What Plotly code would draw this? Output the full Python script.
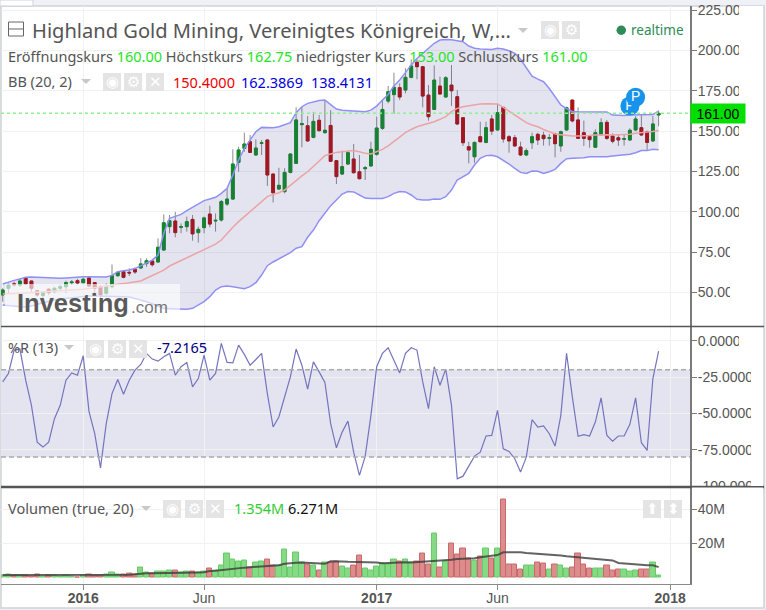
import plotly.graph_objects as go
from plotly.subplots import make_subplots

opens = [48.5, 52.6, 55.4, 54.6, 58.8, 57.1, 51.1, 48.2, 52, 50.5,
         52.6, 53.6, 56.1, 57.3, 56.1, 59, 56.1, 53.6, 49.5, 53.6,
         60.4, 62.9, 62.5, 64.3, 65.2, 67.9, 69.5, 68.9, 76.3, 90.8,
         94.3, 90.4, 90.8, 95.3, 87.1, 90.2, 98.6, 94.3, 94.9, 104.8,
         107.9, 130.6, 139.3, 143.4, 135.2, 142.4, 144.5, 123.4, 114.1, 112.5,
         124.4, 130, 154, 153.3, 146.1, 156.7, 149, 153.5, 131.7, 123.4,
         129.6, 132.7, 124.8, 126.7, 128.4, 135.6, 151.7, 168.6, 172.6, 176.9,
         175.4, 183.3, 192.6, 189.9, 172.3, 163.4, 177.9, 171.1, 178.5, 171.3,
         158.3, 140.3, 134.1, 146.5, 143, 157.5, 150.7, 164.7, 146.5, 145.9,
         140.1, 135.2, 142.8, 148, 147.4, 145.5, 148.2, 140.8, 150.7, 169.2,
         156.9, 149, 146.7, 140, 147.8, 155.4, 147, 145.9, 144.9, 144.5,
         150.7, 152.1, 149.6, 143.9, 160]
highs = [52.6, 55.5, 56.7, 58.8, 59.4, 57.1, 51.5, 50.5, 52.6, 53.5,
         55, 57.3, 57.7, 58.5, 59.2, 59.8, 56.1, 54.6, 55.7, 67.4,
         62.9, 63.5, 65, 65.6, 71.2, 71.2, 70.5, 83.5, 98.4, 98,
         100, 92.8, 97, 98, 90.8, 97, 103.8, 99, 107.3, 114.5,
         138.7, 140.3, 149, 147.6, 144.9, 144.5, 144.5, 123.4, 127.3, 127,
         136.2, 164.7, 165.1, 159.3, 161.9, 160, 168.8, 163, 132.1, 137.9,
         137.9, 142, 135.2, 128.4, 143.4, 158.9, 169.2, 177.9, 186.2, 179.6,
         188.9, 194.4, 194.4, 189.9, 178.5, 190.7, 183.7, 184.1, 190.9, 175.4,
         158.3, 143.4, 143.4, 155.8, 155.8, 160, 166.8, 164.7, 147.6, 147.6,
         143.4, 139.3, 149, 149, 149.6, 148.2, 149, 150.3, 165.1, 169.6,
         164.7, 156.5, 147.6, 151.1, 157.9, 156.9, 148.6, 148.2, 148, 151.7,
         159.3, 160.6, 150.3, 159.3, 162.75]
lows = [44.3, 49.5, 53.6, 53.6, 54.6, 50.5, 47.4, 46, 48.5, 49.5,
        51, 49.5, 54.6, 55, 55.7, 54, 48.5, 46.4, 48.5, 52.6,
        59.8, 58.8, 60.2, 61.5, 64.8, 66, 66, 68.5, 75.9, 86.7,
        84.2, 86.7, 87.7, 82.1, 80.9, 86.7, 90.4, 87.7, 93.9, 103.6,
        107.3, 124.8, 137.2, 136.6, 134.8, 135.2, 116, 105.8, 113.5, 111.4,
        123.8, 129.6, 140, 143.4, 145.5, 149.6, 148.6, 131, 117.2, 122.8,
        129, 123.8, 120.1, 119.7, 128, 134.8, 150.7, 167.2, 160.6, 169.2,
        173.4, 182.7, 182.1, 164.7, 156.4, 163, 172.4, 170.9, 165.5, 153.8,
        140.8, 130, 130.4, 143, 142.4, 147.6, 150.3, 142.8, 136.6, 140.3,
        134.5, 134.5, 138.9, 141.4, 141, 141, 133.7, 137.2, 150.3, 155.4,
        145.1, 140.8, 139.7, 139.5, 147, 144.5, 142.4, 140.8, 141, 144,
        150, 147.2, 138.3, 143.4, 153]
closes = [51.5, 54.6, 54.8, 57.1, 55.3, 52.6, 48.5, 49.9, 49.9, 52.6,
          53.6, 56.1, 56.5, 55.9, 58.2, 54, 52.6, 48.5, 53.6, 60.4,
          62.5, 59.4, 62.1, 62.7, 67.7, 69.7, 67.2, 78, 93.2, 94.5,
          87.1, 90.8, 93.9, 86.3, 89.1, 96.2, 92.4, 94.7, 106.3, 107.9,
          129.6, 138.3, 142, 136.8, 139.5, 142.8, 122.8, 111.8, 116.4, 124.4,
          135.8, 156.9, 154.6, 143.9, 156, 150.3, 150.5, 131.3, 121.8, 128,
          136.6, 124.2, 120.5, 127.3, 138.7, 151.9, 163.4, 174.4, 177.1, 171.1,
          183.3, 190.3, 189.9, 171.7, 158.9, 181.6, 173, 183, 175, 154.4,
          142.8, 138.3, 143, 143.4, 152.1, 150, 161.4, 145.1, 143.9, 140.8,
          135.2, 137.9, 146.5, 144.5, 145.3, 145.9, 142.2, 149.6, 164.5, 156.3,
          145.5, 145.5, 144.7, 149, 155.2, 145.5, 143.7, 144.5, 145.3, 150.5,
          157.5, 147.6, 143, 154.4, 161]

bb_upper = [55.3, 56.5, 57.5, 58.4, 59.4, 59.6, 59.4, 59.2, 59.2, 59,
            58.8, 59, 59.4, 59.6, 59.8, 59.8, 59.6, 59.6, 59.6, 60.6,
            62.9, 63.5, 63.9, 64.8, 66.6, 68.7, 70.1, 73.2, 86.7, 96,
            97, 98.4, 100.7, 102.8, 104.8, 106.9, 107.9, 109, 111.4, 114.5,
            122.8, 132.1, 139.3, 144.5, 149.6, 152.3, 152.3, 152.1, 152.7, 153.8,
            155.2, 161.4, 165.1, 167.2, 168.2, 169, 169.2, 166.2, 163.7, 162.9,
            162.7, 162.3, 162, 162, 163, 165.5, 169.2, 172.7, 177.9, 181.6,
            186.2, 191, 195, 198.2, 201.3, 204.4, 206.4, 206.8, 206.6, 206,
            205.4, 202.7, 201.3, 200.8, 200.6, 200.6, 201.3, 200.8, 199.8, 198.2,
            194.5, 188.9, 184.1, 182.2, 180.6, 176.4, 171.3, 166.2, 163.9, 162.2,
            162, 162, 162, 162, 162, 161.8, 159.9, 159.7, 159.7, 159.9,
            159.9, 160.1, 160.1, 160.3, 162.4]
bb_mid = [49.1, 49.1, 49.3, 49.5, 49.7, 49.9, 50.1, 50.3, 50.5, 50.7,
          50.9, 51.1, 51.5, 51.7, 52, 52.4, 53, 53.6, 54.2, 54.6,
          55.1, 55.5, 55.9, 56.5, 57.1, 58.8, 60.4, 61.9, 63.9, 66.4,
          68.1, 69.7, 71.6, 73, 75, 76.3, 78.4, 80, 82.5, 86.7,
          90.4, 93.9, 97, 100, 103.2, 106.7, 109.4, 110.8, 111.8, 113.5,
          116.6, 119.7, 122.2, 124.8, 128, 131.5, 134.8, 135.8, 136.8, 137.2,
          137.7, 137.9, 137.2, 136.2, 135.8, 137.2, 138.7, 140.8, 143.4, 146.5,
          149, 151, 152.7, 153.8, 154.8, 155.8, 157.3, 158.9, 162, 164.1,
          165.1, 165.7, 166.4, 166.8, 167, 167, 166.8, 164.7, 162.4, 159.9,
          157.3, 155.2, 153.8, 152.7, 151, 149.6, 148.2, 147.8, 147.2, 147,
          147, 147, 147.2, 147.6, 147.8, 147.8, 147.6, 147.6, 147.6, 148,
          148.6, 149.2, 149.4, 149.8, 150.4]
bb_lower = [42.3, 41.8, 41.4, 41.2, 41, 41.6, 42.7, 43.7, 44.5, 45.4,
            46, 46.4, 47, 47.4, 47.6, 47.8, 47.8, 47.8, 47.6, 47.4,
            47.4, 47.4, 47.2, 46.4, 45.4, 44.3, 42.9, 41.2, 40.2, 40,
            39.8, 39.6, 39.6, 40.2, 42.3, 44.3, 47.4, 51.5, 53.6, 54,
            53.6, 52.8, 52.4, 53.6, 56.1, 60.8, 66.6, 68.9, 70.8, 72.6,
            74.7, 77.4, 78.4, 84.2, 88.7, 94.5, 99, 103.8, 107.3, 111,
            112.5, 112.3, 110.4, 108.5, 108.3, 108.3, 108.3, 109.4, 111.4, 112.5,
            112.3, 110.4, 107.7, 107.3, 107.3, 107.9, 107.7, 109.4, 113.5, 119.7,
            121.8, 123.8, 129, 133.1, 134.8, 135, 134.1, 132.1, 129.6, 126.9,
            124.4, 123.8, 125.3, 125.1, 123.8, 124.8, 126.3, 130, 132.9, 133.1,
            133.1, 133.5, 134.1, 134.1, 133.9, 134.1, 134.5, 134.8, 135, 135.6,
            136.6, 138, 137.9, 138.7, 138.4]

williams_r = [-28.3, -22.5, -6.4, -5.7, -27.1, -44.4, -69.7, -73.1, -69.7, -53.6,
              -44.4, -27.1, -22.1, -23.7, -10.3, -48.5, -63.9, -87.4, -57, -36.3,
              -26.7, -36.8, -27.1, -20.2, -16.3, -8.7, -12.6, -14, -11, -8.7,
              -23.7, -17.9, -14.9, -31.7, -26, -9.9, -27.1, -22.5, -1.8, -14.9,
              -15.2, -3, -9.4, -16.8, -12.9, -8.7, -36.3, -59.3, -52.4, -38.6,
              -24.8, -5.7, -16.8, -33.3, -14.5, -21.4, -28.7, -57, -73.6, -62.8,
              -55.2, -76.6, -92.6, -79.5, -51.3, -17.9, -8.7, -4.8, -12.9, -22.1,
              -8.7, -4.8, -6.4, -28.3, -46.7, -17.9, -30.6, -19.5, -44.4, -94.9,
              -93.1, -85.7, -79.3, -76.6, -65.5, -65.1, -47.8, -74.3, -76.1, -81.1,
              -90.3, -80, -54.3, -59.3, -58.6, -63.9, -72.4, -51.3, -8.7, -38.6,
              -65.7, -64.6, -65.5, -55.9, -39.3, -65.1, -69, -65.5, -65.5, -57.5,
              -39.3, -70.1, -75.4, -26, -7.2165]

volumes = [1.7, 2.1, 1.3, 1.7, 1.3, 1, 2.1, 0.8, 1.7, 1.7,
           1, 1.2, 0.8, 0.2, 1.3, 2.1, 1.7, 1.3, 2.1, 2.9,
           2.1, 2.1, 2.7, 2.1, 6.3, 3.1, 2.5, 3.7, 4, 4.4,
           4.4, 3.3, 4, 4, 3.3, 3.7, 5.6, 4.6, 7.5, 14.2,
           11, 9.4, 10.2, 6, 8.7, 9.4, 10.8, 7.1, 7.5, 16.5,
           6, 15, 9, 7.9, 7.1, 4.2, 9, 9, 9.8, 6.5,
           5.6, 7.1, 13.3, 5.6, 4.2, 6.5, 8.3, 7.9, 10.8, 9.8,
           10.8, 9, 9.8, 14.2, 8.1, 25.8, 6.3, 9.4, 20, 13.7,
           17.1, 11.3, 10, 12.3, 17.1, 11.3, 17.1, 45.4, 7.9, 7.9,
           5, 7.1, 7.1, 9, 8.5, 5, 7.9, 7.1, 5.6, 6.2,
           14.2, 7.9, 5.6, 5.6, 5.6, 7.1, 4.2, 5, 5, 3.5,
           4.2, 5, 5, 9.2, 1.354]
volume_ma = [1.7, 1.7, 1.7, 1.7, 1.7, 1.6, 1.6, 1.6, 1.6, 1.6,
             1.6, 1.6, 1.5, 1.5, 1.5, 1.5, 1.5, 1.6, 1.6, 1.7,
             1.8, 1.8, 1.9, 2.1, 2.5, 2.7, 2.8, 2.8, 2.9, 2.9,
             3, 3, 3.1, 3.1, 3.2, 3.3, 4, 4.2, 4.6, 5,
             5.5, 5.7, 6, 6.2, 6.4, 6.7, 6.9, 7.1, 7.4, 8.3,
             8.7, 8.9, 9, 8.9, 8.6, 8.4, 8.2, 9.7, 9.8, 9.6,
             9.4, 9.3, 9.2, 9.2, 9.2, 9, 8.5, 8.7, 8.8, 9,
             9.1, 9, 9.2, 9.4, 9.5, 9.8, 9.9, 10, 10.6, 11,
             11.1, 11.4, 11.5, 12, 12.5, 13, 13.3, 14.9, 15, 14.9,
             14.9, 14.5, 14.3, 14.2, 14.1, 13.7, 13.4, 13.1, 12.6, 12.3,
             12.2, 12, 11.4, 11.2, 10.8, 10.6, 10.2, 8.7, 8.4, 7.9,
             7.6, 7.5, 7.4, 7.4, 6.271]

# week numbers where the time axis has a label
time_ticks = [14, 35, 65, 86, 116]
time_labels = ['<b>2016</b>', 'Jun', '<b>2017</b>', 'Jun', '<b>2018</b>']
price_ticks = [50, 75, 100, 125, 150, 175, 200, 225]
price_labels = ['50.00', '75.00', '100.00', '125.00', '150.00', '175.00', '200.00', '225.00']
r_ticks = [0, -25, -50, -75, -100]
r_labels = ['0.0000', '-25.0000', '-50.0000', '-75.0000', '-100.0000']
vol_ticks = [20, 40]
vol_labels = ['20M', '40M']
last_price = 161
pivot_weeks = [109, 110]
pivot_prices = [165.5, 171]

weeks = list(range(len(closes)))
WIDTH, HEIGHT = 766, 610
LEFT, RIGHT, TOP, BOTTOM = 1, 690, 6, 584
TEXT = '#555555'
UI_FONT = 'Noto Sans'


# pixel helpers for the chrome round the panes
def px(x):
    return (x - LEFT) / (RIGHT - LEFT)


def py(y):
    return (BOTTOM - y) / (BOTTOM - TOP)


fig = make_subplots(rows=3, cols=1, shared_xaxes=True)

# bollinger bands
fig.add_trace(go.Scatter(x=weeks, y=bb_lower, mode='lines', line={'color': '#9090f4', 'width': 1.5}), row=1, col=1)
fig.add_trace(go.Scatter(x=weeks, y=bb_upper, mode='lines', line={'color': '#9090f4', 'width': 1.5},
                         fill='tonexty', fillcolor='rgba(70,75,150,0.15)'), row=1, col=1)
fig.add_trace(go.Scatter(x=weeks, y=bb_mid, mode='lines', line={'color': '#eba3a3', 'width': 1.5}), row=1, col=1)

# wicks first, gray, then the bodies over them
fig.add_trace(go.Candlestick(x=weeks, open=opens, high=highs, low=lows, close=closes,
                             increasing={'line': {'color': '#8c8c8c', 'width': 1}, 'fillcolor': '#8c8c8c'},
                             decreasing={'line': {'color': '#8c8c8c', 'width': 1}, 'fillcolor': '#8c8c8c'}),
              row=1, col=1)
fig.add_trace(go.Candlestick(x=weeks, open=opens, close=closes,
                             high=[max(o, c) for o, c in zip(opens, closes)],
                             low=[min(o, c) for o, c in zip(opens, closes)],
                             increasing={'line': {'color': '#0e8c22', 'width': 1}, 'fillcolor': '#0e8c22'},
                             decreasing={'line': {'color': '#b30f0f', 'width': 1}, 'fillcolor': '#b30f0f'}),
              row=1, col=1)

# one trace each, so the later marker hides part of the earlier P
for week, price in zip(pivot_weeks, pivot_prices):
    fig.add_trace(go.Scatter(x=[week], y=[price], mode='markers+text', text=['P'], textposition='middle center',
                             textfont={'color': 'white', 'size': 14, 'family': 'Liberation Sans'},
                             marker={'color': '#1793ec', 'size': 19}), row=1, col=1)

fig.add_trace(go.Scatter(x=weeks, y=williams_r, mode='lines', line={'color': '#7474bd', 'width': 1.2}), row=2, col=1)

vol_fill = ['#86da86' if c >= o else '#dc8c8c' for o, c in zip(opens, closes)]
vol_edge = ['#68ca68' if c >= o else '#c96a6a' for o, c in zip(opens, closes)]
fig.add_trace(go.Bar(x=weeks, y=volumes, width=0.92, marker={'color': vol_fill, 'line': {'color': vol_edge, 'width': 1}}),
              row=3, col=1)
fig.add_trace(go.Scatter(x=weeks, y=volume_ma, mode='lines', line={'color': 'rgba(60,60,60,0.8)', 'width': 2}),
              row=3, col=1)

axis_style = dict(showgrid=True, gridcolor='#f1f1f1', gridwidth=1, zeroline=False, showline=True,
                  linecolor='#7a7a7a', linewidth=2, side='right', ticks='outside', ticklen=5, ticklabelstandoff=-2,
                  tickcolor='#7a7a7a', tickfont={'family': 'Liberation Sans', 'size': 14, 'color': TEXT})
fig.update_yaxes(axis_style)
fig.update_yaxes(domain=[py(326), 1], range=[29.24, 227.5], tickvals=price_ticks, ticktext=price_labels, row=1, col=1)
fig.update_yaxes(domain=[py(486.5), py(327)], range=[-100.2, 9.45], tickvals=r_ticks, ticktext=r_labels, row=2, col=1)
fig.update_yaxes(domain=[0, py(487.5)], range=[-3.5, 52.5], tickvals=vol_ticks, ticktext=vol_labels, row=3, col=1)
fig.update_xaxes(range=[-0.29, 119.45], tickvals=time_ticks, ticktext=time_labels, showgrid=True, gridcolor='#f1f1f1',
                 zeroline=False, rangeslider_visible=False, showline=False,
                 tickfont={'family': 'Liberation Sans', 'size': 14, 'color': TEXT})
fig.update_xaxes(showline=True, linecolor='#8a8a8a', linewidth=1, ticks='outside', ticklen=5, tickcolor='#8a8a8a',
                 ticklabelstandoff=-4, row=3, col=1)

shapes = []


def box(x0, y0, x1, y1, fill, layer='above', line=None):
    shapes.append(dict(type='rect', xref='paper', yref='paper', x0=px(x0), x1=px(x1), y0=py(y1), y1=py(y0),
                       fillcolor=fill, layer=layer, line=line or {'width': 0}))


# the white card on the gray page
box(1, 6, 764, 608, 'white', 'below', {'color': '#cfd2d6', 'width': 1.5})
box(0, 0, 33, 6, 'white', 'below', {'color': '#cfd2d6', 'width': 1})

# price and %R guides
shapes.append(dict(type='line', xref='paper', yref='y', x0=0, x1=1, y0=last_price, y1=last_price,
                   line={'color': '#8ff08f', 'width': 1.5, 'dash': 'dot'}, layer='above'))
shapes.append(dict(type='rect', xref='paper', yref='y2', x0=0, x1=1, y0=-80, y1=-20, fillcolor='#e3e4f0',
                   line={'width': 0}, layer='below'))
for level in (-20, -80):
    shapes.append(dict(type='line', xref='paper', yref='y2', x0=0, x1=1, y0=level, y1=level,
                       line={'color': '#ababab', 'width': 1.5, 'dash': '5px,3px'}, layer='above'))

# pane dividers
for y, w in ((326.5, 1.5), (487, 2.5)):
    shapes.append(dict(type='line', xref='paper', yref='paper', x0=px(1), x1=px(764), y0=py(y), y1=py(y),
                       line={'color': '#555555', 'width': w}, layer='above'))

# the logo sits on a soft white plate
shapes.append(dict(type='rect', xref='paper', yref='paper', x0=px(5), x1=px(180), y0=py(325), y1=py(284),
                   fillcolor='rgba(255,255,255,0.62)', line={'width': 0}, layer='above'))

# tick labels are cut off on the right in the original
for y0, y1, x0 in ((6, 130, 739), (122, 226, 739), (240, 305, 730), (330, 360, 739), (360, 486, 751)):
    box(x0, y0, 763, y1, 'white')
box(692, 487.5, 763, 497, 'white')

BUTTONS = [(541, 21, 18, '◉'), (562, 21, 18, '⚙'),
           (103, 73, 18, '◉'), (124, 73, 18, '⚙'), (146, 73, 18, '✕'),
           (86, 340, 18, '◉'), (108, 340, 18, '⚙'), (129, 340, 18, '✕'),
           (163, 500, 18, '◉'), (185, 500, 18, '⚙'), (206, 500, 18, '✕'),
           (643, 500, 18, '⬆'), (664, 500, 18, '⬍')]
for bx, by, size, glyph in BUTTONS:
    box(bx, by, bx + size, by + size, '#e4e4e4')

# collapse box beside the title
box(8.5, 22, 23.5, 36, 'white', 'above', {'color': '#666666', 'width': 1})
shapes.append(dict(type='line', xref='paper', yref='paper', x0=px(9), x1=px(23), y0=py(29), y1=py(29),
                   line={'color': '#666666', 'width': 1}))
shapes.append(dict(type='circle', xref='paper', yref='paper', x0=px(616.5), x1=px(626), y0=py(35), y1=py(25.5),
                   fillcolor='#2e8b57', line={'width': 0}))
# little carets after the legend names
for cx, cy in ((523, 30), (86, 81), (69, 347), (146, 508)):
    shapes.append(dict(type='path', xref='paper', yref='paper',
                       path=f'M {px(cx - 5)} {py(cy - 2)} L {px(cx + 5)} {py(cy - 2)} L {px(cx)} {py(cy + 3)} Z',
                       fillcolor='#c8c8c8', line={'width': 0}))

annotations = []


def label(x, y, text, size=14.5, color=TEXT, family=UI_FONT, anchor='left'):
    annotations.append(dict(xref='paper', yref='paper', x=px(x), y=py(y), text=text, showarrow=False,
                            xanchor=anchor, yanchor='middle', align='left',
                            font={'size': size, 'color': color, 'family': family}, borderpad=0, borderwidth=0))


def tint(text, color):
    return f'<span style="color:{color}">{text}</span>'


LIME = '#22e522'
label(32, 30.5, 'Highland Gold Mining, Vereinigtes Königreich, W,...', 20.1)
label(8, 56.5, 'Eröffnungskurs ' + tint('160.00', LIME) + ' Höchstkurs ' + tint('162.75', LIME)
      + ' niedrigster Kurs ' + tint('153.00', LIME) + ' Schlusskurs ' + tint('161.00', LIME))
label(8, 81.5, 'BB (20, 2)')
label(173, 82, '150.4000', color='#ee0000')
label(241, 82, '162.3869', color='#0000dd')
label(311, 82, '138.4131', color='#0000dd')
label(8, 347, '%R (13)')
label(157, 347, '-7.2165', color='#000080')
label(8, 508, 'Volumen (true, 20)')
label(234, 508, '1.354M', color='#33cc33')
label(288, 508, '6.271M', color='#111111')
label(631, 29.5, 'realtime', 13.5, '#2e8b57')
label(17, 303, '<b>Investing</b>', 25.5, '#5a5a5a', 'Liberation Sans')
label(131, 307, '.com', 17, '#777777', 'Liberation Sans')

for bx, by, size, glyph in BUTTONS:
    label(bx + size / 2, by + size / 2, glyph, 15, 'white', 'DejaVu Sans', 'center')

# tag with the last price on the axis
annotations.append(dict(xref='paper', yref='y', x=1, y=last_price, text=f'{last_price:.2f}', showarrow=False,
                        xanchor='left', yanchor='middle', width=52, height=17, bgcolor='#00e000', align='center',
                        font={'size': 14, 'color': 'black', 'family': 'Liberation Sans'}))

fig.update_layout(width=WIDTH, height=HEIGHT, autosize=False, showlegend=False,
                  margin={'l': LEFT, 'r': WIDTH - RIGHT, 't': TOP, 'b': HEIGHT - BOTTOM, 'pad': 0},
                  paper_bgcolor='#eff1f6', plot_bgcolor='rgba(0,0,0,0)', bargap=0,
                  shapes=shapes, annotations=annotations, hovermode=False)

fig.write_html('out.html', config={'displayModeBar': False},
               post_script="document.body.style.margin='0';document.body.style.overflow='hidden';")
